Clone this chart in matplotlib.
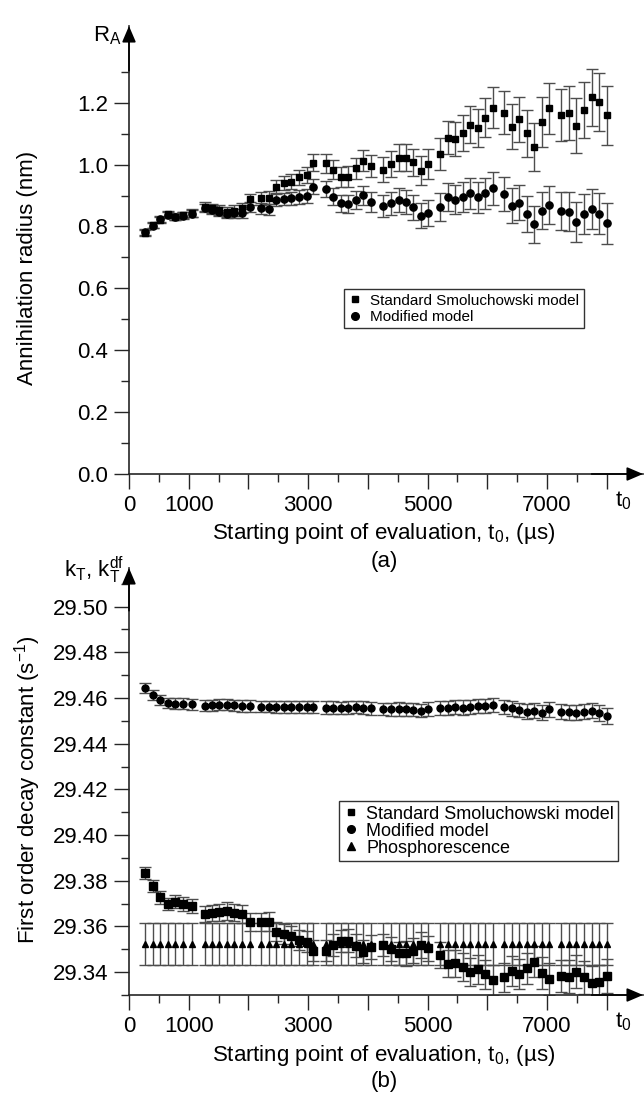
import matplotlib
matplotlib.use("Agg")
import matplotlib.pyplot as plt
from matplotlib.lines import Line2D

plt.rcParams['font.family'] = ['Liberation Sans', 'DejaVu Sans']
plt.rcParams['mathtext.default'] = 'regular'

# starting points of evaluation (us), shared by both panels
t0 = [270, 400, 525, 650, 775, 910, 1050,
      1265, 1390, 1510, 1640, 1765, 1890, 2030,
      2215, 2340, 2460, 2590, 2715, 2840, 2975, 3090,
      3295, 3425, 3550, 3675, 3805, 3925, 4055,
      4260, 4390, 4515, 4635, 4765, 4890, 5015,
      5210, 5340, 5460, 5590, 5710, 5840, 5960, 6100,
      6285, 6410, 6540, 6660, 6790, 6910, 7040,
      7235, 7370, 7495, 7625, 7750, 7875, 8010]

# (a) annihilation radius, nm
ra_std = [0.780, 0.805, 0.821, 0.840, 0.832, 0.837, 0.843,
          0.864, 0.859, 0.853, 0.848, 0.851, 0.859, 0.888,
          0.891, 0.893, 0.929, 0.940, 0.945, 0.959, 0.966, 1.006,
          1.004, 0.983, 0.961, 0.961, 0.988, 1.013, 0.995,
          0.983, 1.002, 1.022, 1.022, 1.007, 0.980, 1.001,
          1.033, 1.087, 1.083, 1.102, 1.129, 1.119, 1.152, 1.184,
          1.168, 1.123, 1.146, 1.101, 1.058, 1.138, 1.182,
          1.160, 1.168, 1.126, 1.176, 1.218, 1.202, 1.159]
ra_std_err = [0.010, 0.010, 0.010, 0.011, 0.011, 0.011, 0.012,
              0.014, 0.015, 0.015, 0.016, 0.017, 0.017, 0.018,
              0.020, 0.021, 0.022, 0.023, 0.024, 0.025, 0.026, 0.027,
              0.030, 0.031, 0.032, 0.033, 0.034, 0.035, 0.036,
              0.040, 0.041, 0.043, 0.044, 0.045, 0.047, 0.048,
              0.052, 0.054, 0.056, 0.058, 0.060, 0.062, 0.064, 0.066,
              0.070, 0.072, 0.074, 0.076, 0.078, 0.080, 0.082,
              0.085, 0.087, 0.089, 0.090, 0.092, 0.094, 0.096]
ra_mod = [0.782, 0.803, 0.823, 0.838, 0.830, 0.835, 0.841,
          0.859, 0.853, 0.848, 0.840, 0.843, 0.843, 0.862,
          0.859, 0.856, 0.886, 0.889, 0.891, 0.896, 0.899, 0.929,
          0.921, 0.896, 0.875, 0.872, 0.886, 0.901, 0.880,
          0.866, 0.875, 0.886, 0.878, 0.862, 0.835, 0.845,
          0.864, 0.896, 0.886, 0.896, 0.907, 0.894, 0.907, 0.923,
          0.904, 0.867, 0.877, 0.840, 0.807, 0.851, 0.869,
          0.851, 0.848, 0.815, 0.840, 0.857, 0.841, 0.810]
ra_mod_err = [0.009, 0.009, 0.010, 0.010, 0.010, 0.011, 0.011,
              0.013, 0.013, 0.014, 0.014, 0.015, 0.015, 0.016,
              0.018, 0.018, 0.019, 0.020, 0.021, 0.022, 0.022, 0.023,
              0.026, 0.027, 0.028, 0.029, 0.030, 0.031, 0.032,
              0.036, 0.037, 0.038, 0.039, 0.040, 0.041, 0.042,
              0.045, 0.046, 0.047, 0.048, 0.049, 0.050, 0.051, 0.052,
              0.055, 0.056, 0.057, 0.058, 0.059, 0.060, 0.061,
              0.062, 0.063, 0.064, 0.064, 0.065, 0.066, 0.067]

# (b) first order decay constants, 1/s
kt_std = [29.3833, 29.3777, 29.3728, 29.3698, 29.3708, 29.3698, 29.3690,
          29.3653, 29.3658, 29.3663, 29.3668, 29.3660, 29.3653, 29.3621,
          29.3621, 29.3621, 29.3577, 29.3566, 29.3558, 29.3541, 29.3533, 29.3493,
          29.3494, 29.3519, 29.3538, 29.3538, 29.3516, 29.3489, 29.3509,
          29.3519, 29.3501, 29.3482, 29.3482, 29.3494, 29.3519, 29.3504,
          29.3475, 29.3436, 29.3439, 29.3424, 29.3402, 29.3412, 29.3391, 29.3366,
          29.3377, 29.3406, 29.3392, 29.3417, 29.3446, 29.3398, 29.3370,
          29.3383, 29.3380, 29.3402, 29.3377, 29.3354, 29.3358, 29.3383]
kt_std_err = [0.0027, 0.0027, 0.0028, 0.0028, 0.0029, 0.0029, 0.0030,
              0.0035, 0.0036, 0.0037, 0.0038, 0.0038, 0.0039, 0.0040,
              0.0040, 0.0041, 0.0042, 0.0043, 0.0044, 0.0045, 0.0045, 0.0046,
              0.0046, 0.0047, 0.0048, 0.0049, 0.0050, 0.0051, 0.0052,
              0.0050, 0.0051, 0.0052, 0.0053, 0.0054, 0.0055, 0.0056,
              0.0058, 0.0059, 0.0060, 0.0061, 0.0062, 0.0063, 0.0064, 0.0065,
              0.0065, 0.0066, 0.0067, 0.0068, 0.0069, 0.0070, 0.0071,
              0.0070, 0.0071, 0.0072, 0.0073, 0.0074, 0.0075, 0.0076]
kt_mod = [29.4645, 29.4612, 29.4590, 29.4578, 29.4575, 29.4575, 29.4572,
          29.4565, 29.4568, 29.4570, 29.4570, 29.4568, 29.4565, 29.4565,
          29.4562, 29.4562, 29.4560, 29.4560, 29.4560, 29.4560, 29.4560, 29.4560,
          29.4558, 29.4558, 29.4555, 29.4558, 29.4560, 29.4558, 29.4555,
          29.4552, 29.4550, 29.4552, 29.4550, 29.4548, 29.4545, 29.4552,
          29.4555, 29.4555, 29.4560, 29.4558, 29.4562, 29.4565, 29.4565, 29.4570,
          29.4560, 29.4555, 29.4548, 29.4540, 29.4545, 29.4535, 29.4550,
          29.4540, 29.4538, 29.4535, 29.4540, 29.4545, 29.4535, 29.4520]
kt_mod_err = [0.0022, 0.0022, 0.0022, 0.0023, 0.0023, 0.0023, 0.0023,
              0.0024, 0.0024, 0.0024, 0.0024, 0.0025, 0.0025, 0.0025,
              0.0025, 0.0025, 0.0026, 0.0026, 0.0026, 0.0026, 0.0026, 0.0027,
              0.0027, 0.0027, 0.0027, 0.0028, 0.0028, 0.0028, 0.0028,
              0.0028, 0.0029, 0.0029, 0.0029, 0.0029, 0.0030, 0.0030,
              0.0030, 0.0030, 0.0030, 0.0031, 0.0031, 0.0031, 0.0031, 0.0031,
              0.0031, 0.0032, 0.0032, 0.0032, 0.0032, 0.0032, 0.0033,
              0.0033, 0.0033, 0.0033, 0.0034, 0.0034, 0.0034, 0.0035]
kt_phos = [29.3525, 29.3525, 29.3525, 29.3525, 29.3525, 29.3525, 29.3525,
           29.3525, 29.3525, 29.3525, 29.3525, 29.3525, 29.3525, 29.3525,
           29.3525, 29.3525, 29.3525, 29.3525, 29.3525, 29.3525, 29.3525, 29.3525,
           29.3525, 29.3525, 29.3525, 29.3525, 29.3525, 29.3525, 29.3525,
           29.3525, 29.3525, 29.3525, 29.3525, 29.3525, 29.3525, 29.3525,
           29.3525, 29.3525, 29.3525, 29.3525, 29.3525, 29.3525, 29.3525, 29.3525,
           29.3525, 29.3525, 29.3525, 29.3525, 29.3525, 29.3525, 29.3525,
           29.3525, 29.3525, 29.3525, 29.3525, 29.3525, 29.3525, 29.3525]
kt_phos_err = 0.0092

# axis ticks
x_major = [0, 1000, 2000, 3000, 4000, 5000, 6000, 7000, 8000]
x_labels = ['0', '1000', '', '3000', '', '5000', '', '7000', '']
x_minor = [500, 1500, 2500, 3500, 4500, 5500, 6500, 7500]
ya_major = [0.0, 0.2, 0.4, 0.6, 0.8, 1.0, 1.2]
ya_labels = ['0.0', '0.2', '0.4', '0.6', '0.8', '1.0', '1.2']
ya_minor = [0.1, 0.3, 0.5, 0.7, 0.9, 1.1, 1.3]
yb_major = [29.34, 29.36, 29.38, 29.40, 29.42, 29.44, 29.46, 29.48, 29.50]
yb_labels = ['29.34', '29.36', '29.38', '29.40', '29.42', '29.44', '29.46', '29.48', '29.50']
yb_minor = [29.33, 29.35, 29.37, 29.39, 29.41, 29.43, 29.45, 29.47, 29.49, 29.51]

W, H = 644, 1093


def fx(p):
    return p / W


def fy(p):
    return 1 - p / H


def style_axis(ax):
    for s in ['top', 'right']:
        ax.spines[s].set_visible(False)
    for s in ['left', 'bottom']:
        ax.spines[s].set_color('0.15')
        ax.spines[s].set_linewidth(1.2)
    ax.tick_params(which='major', direction='out', length=11, width=1.0,
                   color='0.15', labelsize=16, pad=4)
    ax.tick_params(which='minor', direction='out', length=6, width=1.0, color='0.15')
    ax.set_xticks(x_major, x_labels)
    ax.set_xticks(x_minor, minor=True)
    arrow = dict(arrowstyle='-|>,head_length=0.7,head_width=0.3', mutation_scale=14,
                 color='black', lw=1.2, shrinkA=0, shrinkB=0)
    ax.annotate('', xy=(1, 0), xytext=(0.9, 0), xycoords='axes fraction',
                arrowprops=arrow, annotation_clip=False)
    ax.annotate('', xy=(0, 1), xytext=(0, 0.9), xycoords='axes fraction',
                arrowprops=arrow, annotation_clip=False)


ebar = dict(ls='none', color='black', ecolor='0.3', elinewidth=1.0,
            capsize=4, capthick=1.0)

fig = plt.figure(figsize=(W / 100, H / 100), dpi=100)

# ---- panel (a)
ax1 = fig.add_axes([fx(129), fy(474), (643 - 129) / W, (474 - 26) / H])
ax1.errorbar(t0, ra_std, yerr=ra_std_err, marker='s', markersize=4.2, **ebar)
ax1.errorbar(t0, ra_mod, yerr=ra_mod_err, marker='o', markersize=5.2, **ebar)
ax1.set_xlim(0, (643 - 129) / 59.7 * 1000)
ax1.set_ylim(0, (474 - 26) / 309.4)
style_axis(ax1)
ax1.set_yticks(ya_major, ya_labels)
ax1.set_yticks(ya_minor, minor=True)

leg_a = [Line2D([], [], ls='none', marker='s', color='k', markersize=4.5,
                label='Standard Smoluchowski model'),
         Line2D([], [], ls='none', marker='o', color='k', markersize=5.5,
                label='Modified model')]
la = ax1.legend(handles=leg_a, loc='upper left', bbox_to_anchor=(fx(344), fy(289)),
                bbox_transform=fig.transFigure, fancybox=False, edgecolor='0.2',
                fontsize=11, handlelength=0.9, handletextpad=0.5, borderpad=0.3,
                labelspacing=0.15, borderaxespad=0, framealpha=1)
la.get_frame().set_linewidth(1.0)

# ---- panel (b)
ax2 = fig.add_axes([fx(129), fy(995), (643 - 129) / W, (995 - 568) / H])
ax2.errorbar(t0, kt_phos, yerr=kt_phos_err, marker='^', markersize=4.5, **ebar)
ax2.errorbar(t0, kt_mod, yerr=kt_mod_err, marker='o', markersize=5, **ebar)
ax2.errorbar(t0, kt_std, yerr=kt_std_err, marker='s', markersize=5.2, **ebar)
ax2.set_xlim(0, (643 - 129) / 59.7 * 1000)
ax2.set_ylim(29.33, 29.33 + (995 - 568) / 2285)
style_axis(ax2)
ax2.set_yticks(yb_major, yb_labels)
ax2.set_yticks(yb_minor, minor=True)

leg_b = [Line2D([], [], ls='none', marker='s', color='k', markersize=5,
                label='Standard Smoluchowski model'),
         Line2D([], [], ls='none', marker='o', color='k', markersize=5.5,
                label='Modified model'),
         Line2D([], [], ls='none', marker='^', color='k', markersize=5.5,
                label='Phosphorescence')]
lb = ax2.legend(handles=leg_b, loc='upper left', bbox_to_anchor=(fx(339), fy(801)),
                bbox_transform=fig.transFigure, fancybox=False, edgecolor='0.2',
                fontsize=13, handlelength=0.8, handletextpad=0.45, borderpad=0.25,
                labelspacing=0.0, borderaxespad=0, framealpha=1)
lb.get_frame().set_linewidth(1.0)

# ---- labels
fig.text(fx(122), fy(36), 'R$_A$', ha='right', va='center', fontsize=16)
fig.text(fx(124), fy(570), 'k$_T$, k$_T^{df}$', ha='right', va='center', fontsize=16)
fig.text(fx(28), fy(268), 'Annihilation radius (nm)', rotation=90,
         ha='center', va='center', fontsize=16)
fig.text(fx(28), fy(790), 'First order decay constant (s$^{-1}$)', rotation=90,
         ha='center', va='center', fontsize=16)
for ytop, tag in [(474, '(a)'), (995, '(b)')]:
    fig.text(fx(615), fy(ytop + 27), 't$_0$', ha='left', va='center', fontsize=16)
    fig.text(fx(384), fy(ytop + 60), 'Starting point of evaluation, t$_0$, (µs)',
             ha='center', va='center', fontsize=16)
    fig.text(fx(384), fy(ytop + 87), tag, ha='center', va='center', fontsize=16)

fig.savefig('out.png', dpi=100)
